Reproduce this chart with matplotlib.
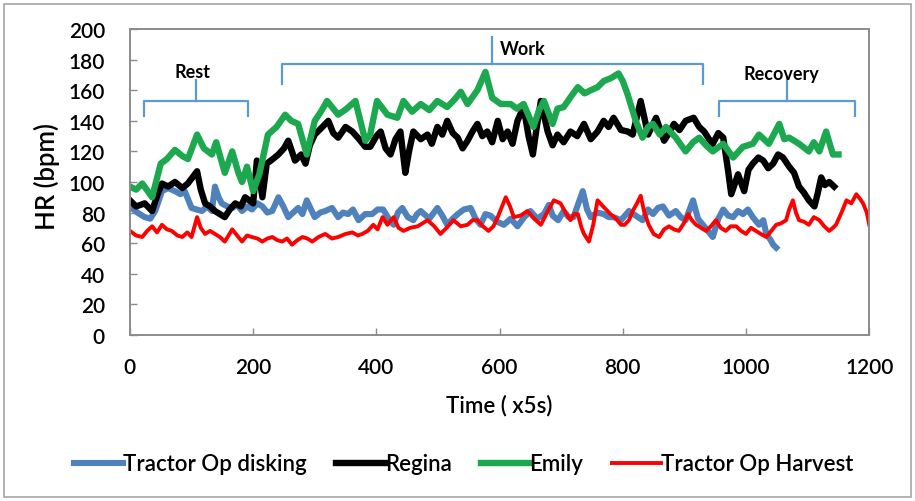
import matplotlib
matplotlib.use("Agg")
import matplotlib.pyplot as plt
from matplotlib.patches import Rectangle

plt.rcParams['font.family'] = ['Lato', 'DejaVu Sans']

# Emily (green)
emily_t = [0, 10, 20, 36, 50, 60, 73, 85, 94, 109, 120, 133, 140, 154, 166, 176, 182, 190, 200, 210,
           224, 238, 252, 262, 273, 287, 300, 310, 320, 330, 338, 352, 366, 382, 390, 401, 418, 434, 444, 458,
           472, 486, 499, 515, 527, 537, 548, 564, 577, 588, 602, 618, 628, 639, 655, 664, 672, 686, 694, 704,
           716, 727, 738, 748, 759, 769, 781, 793, 800, 808, 821, 832, 841, 849, 860, 870, 886, 902, 914, 924,
           935, 946, 963, 979, 995, 1011, 1021, 1037, 1054, 1062, 1070, 1086, 1102, 1110, 1119, 1130, 1141, 1150]
emily_hr = [97, 95, 99, 90, 112, 115, 121, 117, 115, 131, 122, 118, 126, 106, 120, 106, 100, 110, 94, 105,
            131, 136, 144, 140, 138, 118, 140, 146, 153, 148, 144, 148, 153, 127, 131, 153, 144, 142, 153, 146,
            151, 147, 153, 149, 154, 159, 151, 160, 172, 155, 151, 151, 148, 151, 136, 147, 153, 138, 148, 149,
            156, 162, 158, 160, 162, 166, 168, 171, 166, 157, 140, 129, 136, 138, 131, 136, 129, 120, 126, 129,
            124, 120, 125, 116, 123, 125, 131, 125, 138, 128, 129, 125, 120, 126, 120, 133, 118, 118]

# Regina (black)
regina_t = [0, 10, 24, 36, 45, 52, 62, 73, 85, 94, 109, 115, 122, 130, 138, 154, 162, 171, 180, 187,
            200, 206, 215, 222, 232, 241, 250, 257, 268, 278, 285, 292, 300, 310, 322, 330, 338, 350, 361, 372,
            382, 390, 400, 407, 415, 423, 431, 439, 447, 453, 460, 472, 483, 490, 499, 507, 515, 524, 532, 540,
            548, 556, 564, 572, 580, 588, 597, 605, 613, 621, 629, 639, 647, 654, 660, 667, 678, 686, 694, 704,
            715, 726, 737, 748, 759, 769, 777, 785, 797, 808, 816, 829, 841, 854, 867, 875, 883, 892, 902, 915,
            924, 932, 940, 946, 955, 963, 971, 976, 987, 997, 1004, 1011, 1020, 1028, 1036, 1044, 1052, 1060, 1070, 1078,
            1086, 1094, 1102, 1111, 1116, 1122, 1128, 1135, 1143]
regina_hr = [88, 84, 86, 81, 92, 99, 97, 100, 96, 99, 107, 95, 86, 84, 81, 77, 82, 86, 84, 90,
             86, 114, 90, 112, 115, 118, 122, 127, 114, 118, 112, 124, 131, 135, 140, 132, 129, 136, 133, 128,
             123, 123, 130, 133, 122, 118, 128, 133, 106, 120, 133, 128, 131, 125, 136, 131, 140, 132, 129, 122,
             127, 133, 138, 130, 133, 126, 140, 128, 133, 125, 140, 149, 130, 118, 135, 153, 133, 124, 131, 126,
             133, 130, 138, 128, 133, 140, 136, 142, 134, 133, 131, 153, 131, 142, 127, 132, 138, 134, 140, 142,
             136, 133, 128, 125, 132, 129, 107, 92, 105, 94, 108, 112, 116, 114, 109, 112, 118, 116, 110, 106,
             97, 93, 88, 84, 92, 103, 98, 100, 97]

# Tractor Op disking (blue)
disking_t = [0, 12, 24, 33, 41, 52, 62, 73, 82, 89, 100, 108, 117, 125, 133, 138, 144, 149, 158, 166,
             174, 182, 190, 198, 207, 215, 223, 231, 241, 249, 257, 265, 273, 280, 287, 294, 300, 309, 317, 328,
             338, 346, 354, 362, 371, 382, 393, 402, 411, 420, 428, 435, 442, 451, 460, 466, 472, 486, 499, 507,
             515, 524, 532, 542, 553, 561, 569, 577, 585, 596, 607, 618, 629, 640, 650, 661, 672, 680, 686, 695,
             704, 712, 720, 727, 735, 742, 748, 758, 769, 777, 785, 797, 810, 821, 832, 841, 849, 857, 865, 875,
             886, 894, 902, 914, 922, 930, 938, 946, 955, 963, 971, 979, 987, 995, 1003, 1011, 1021, 1028, 1033, 1040,
             1044, 1049]
disking_hr = [84, 80, 77, 76, 81, 94, 96, 94, 92, 94, 83, 82, 81, 84, 81, 97, 90, 86, 84, 83,
              85, 81, 84, 82, 86, 84, 80, 81, 90, 84, 77, 80, 83, 79, 88, 82, 77, 80, 81, 83,
              77, 80, 79, 82, 75, 79, 79, 82, 82, 76, 72, 80, 83, 77, 75, 79, 81, 76, 83, 78,
              72, 76, 79, 82, 83, 76, 72, 79, 78, 74, 72, 76, 71, 77, 81, 76, 79, 85, 78, 75,
              81, 77, 77, 85, 94, 82, 77, 80, 79, 77, 77, 75, 81, 78, 75, 82, 79, 83, 84, 78,
              81, 77, 75, 88, 76, 72, 68, 64, 76, 82, 78, 77, 81, 79, 82, 77, 72, 75, 66, 62,
              59, 57]

# Tractor Op Harvest (red)
harvest_t = [0, 10, 20, 28, 36, 44, 52, 60, 68, 77, 85, 93, 100, 109, 115, 122, 130, 138, 146, 154,
             160, 166, 174, 182, 190, 198, 207, 215, 223, 231, 239, 247, 255, 263, 272, 280, 288, 296, 306, 317,
             328, 338, 350, 361, 370, 377, 386, 395, 402, 410, 418, 428, 436, 444, 455, 467, 475, 483, 494, 504,
             514, 525, 537, 548, 556, 564, 573, 582, 590, 597, 604, 610, 617, 623, 634, 645, 656, 667, 677, 688,
             699, 707, 715, 721, 727, 733, 737, 745, 752, 759, 768, 780, 789, 797, 803, 810, 816, 823, 829, 835,
             842, 850, 859, 867, 875, 883, 891, 899, 906, 912, 919, 927, 935, 943, 951, 959, 967, 975, 984, 992,
             1000, 1008, 1016, 1024, 1033, 1041, 1049, 1057, 1065, 1070, 1076, 1081, 1086, 1094, 1102, 1110, 1119, 1127, 1135, 1141,
             1146, 1155, 1163, 1171, 1179, 1185, 1190, 1196, 1200]
harvest_hr = [68, 65, 64, 68, 71, 67, 72, 69, 68, 65, 64, 67, 64, 77, 70, 66, 68, 66, 64, 61,
              65, 69, 65, 61, 65, 64, 63, 61, 63, 64, 62, 61, 63, 59, 62, 64, 63, 61, 64, 66,
              63, 64, 66, 67, 65, 66, 68, 72, 69, 77, 72, 77, 70, 68, 70, 71, 73, 75, 71, 66,
              70, 75, 71, 72, 75, 75, 71, 68, 71, 77, 84, 90, 84, 77, 78, 81, 76, 72, 80, 88,
              86, 80, 75, 79, 79, 70, 66, 61, 72, 88, 84, 79, 76, 72, 72, 75, 81, 86, 91, 80,
              72, 66, 64, 69, 71, 69, 68, 73, 79, 75, 72, 70, 68, 71, 75, 70, 68, 71, 71, 68,
              66, 70, 68, 66, 64, 68, 72, 73, 75, 82, 88, 80, 75, 74, 72, 77, 75, 71, 68, 70,
              72, 80, 88, 86, 92, 89, 86, 80, 72]

x_ticks = [0, 200, 400, 600, 800, 1000, 1200]
y_ticks = [0, 20, 40, 60, 80, 100, 120, 140, 160, 180, 200]

phases = ['Rest', 'Work', 'Recovery']

BLUE = '#4F81BD'
GREEN = '#1BA84E'
RED = '#FF0000'
BRACKET = '#5B9BD5'
FRAME = '#8C8C8C'
W = 'semibold'

fig = plt.figure(figsize=(9.15, 5.02), dpi=100)
ax = fig.add_axes([0.142, 0.331, 0.808, 0.609])

ax.plot(disking_t, disking_hr, color=BLUE, lw=4.4, label='Tractor Op disking', solid_joinstyle='round')
ax.plot(regina_t, regina_hr, color='black', lw=4.6, label='Regina', solid_joinstyle='round')
ax.plot(emily_t, emily_hr, color=GREEN, lw=4.6, label='Emily', solid_joinstyle='round')
ax.plot(harvest_t, harvest_hr, color=RED, lw=2.8, label='Tractor Op Harvest', solid_joinstyle='round')

ax.set_xlim(0, 1200)
ax.set_ylim(0, 200)
ax.set_xticks(x_ticks)
ax.set_yticks(y_ticks)
ax.tick_params(direction='in', length=5, width=1, color=FRAME, labelsize=15)
ax.tick_params(axis='y', pad=18)
ax.tick_params(axis='x', pad=16)
for lab in ax.get_xticklabels() + ax.get_yticklabels():
    lab.set_fontweight(W)
for s in ax.spines.values():
    s.set_color(FRAME)
    s.set_linewidth(1.4)

ax.set_xlabel('Time ( x5s)', fontsize=16, fontweight=W, labelpad=12)
ax.set_ylabel('HR (bpm)', fontsize=18.5, fontweight=W)
ax.yaxis.set_label_coords(-0.095, 0.52)

# phase brackets
def bracket(x0, x1, xc, y, y_end, y_top, label, lx, ly):
    kw = dict(color=BRACKET, lw=1.6, clip_on=False)
    ax.plot([x0, x0, x1, x1], [y_end, y, y, y_end], **kw)
    ax.plot([xc, xc], [y, y_top], **kw)
    ax.text(lx, ly, label, ha='center', va='center', fontsize=13, fontweight='bold')

bracket(23, 192, 107, 153, 143, 167, phases[0], 102, 172)
bracket(247, 930, 588, 177, 164, 195, phases[1], 637, 187)
bracket(956, 1177, 1067, 153, 143, 169, phases[2], 1058, 171)

leg = fig.legend(loc='center', bbox_to_anchor=(0.507, 0.074), ncol=4, frameon=False,
                 prop={'size': 16, 'weight': W}, handlelength=2.2, handletextpad=0.0,
                 columnspacing=1.3)

fig.patches.append(Rectangle((4 / 915, 4 / 502), 907 / 915, 493 / 502, transform=fig.transFigure,
                             fill=False, edgecolor='#A6A6A6', lw=1.2))

fig.savefig('out.png', dpi=100)
